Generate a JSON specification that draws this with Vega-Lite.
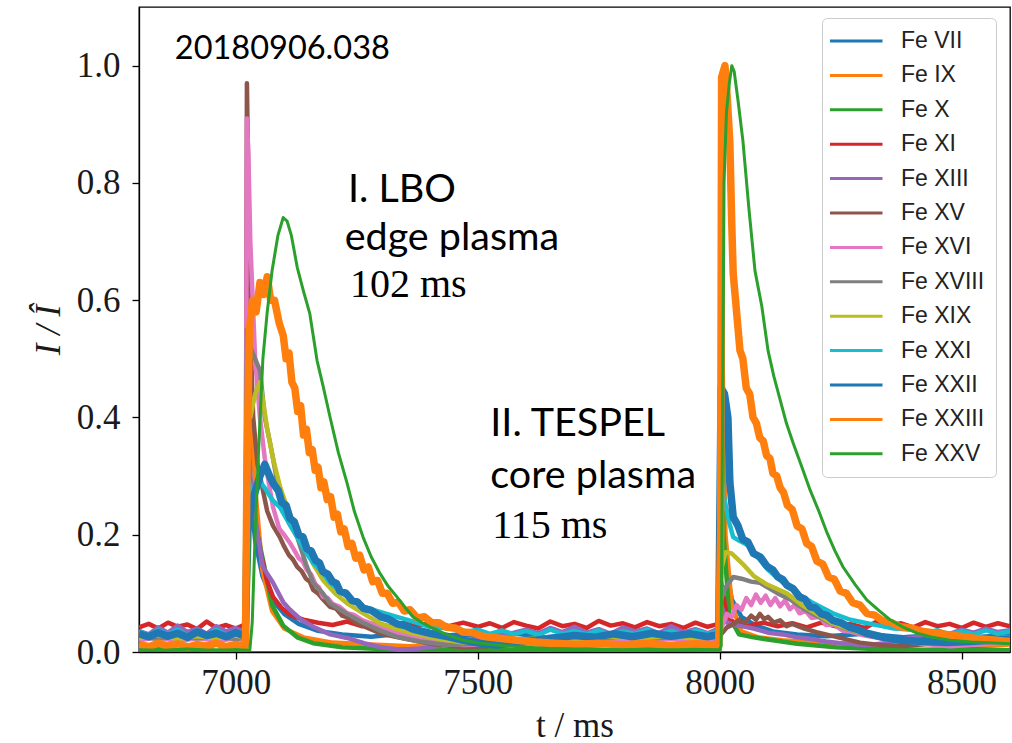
{
  "$schema": "https://vega.github.io/schema/vega-lite/v6.json",
  "width": 871,
  "height": 645,
  "autosize": {"type": "none"},
  "padding": {"left": 139, "top": 7, "right": 2, "bottom": 91},
  "background": "white",
  "config": {
    "view": {"stroke": "black", "strokeWidth": 1.3},
    "axis": {
      "grid": false,
      "domainColor": "black",
      "domainWidth": 1.3,
      "tickColor": "black",
      "tickWidth": 1.3,
      "tickSize": 7,
      "labelFont": "Liberation Serif",
      "labelFontSize": 35,
      "labelColor": "#1a1a1a",
      "labelFlush": false,
      "titleFont": "Liberation Serif",
      "titleFontSize": 35,
      "titleFontWeight": "normal",
      "titleColor": "#1a1a1a"
    }
  },
  "datasets": {
    "ions": [
      {"s":"Fe VII","t":6800,"v":0.026},{"s":"Fe VII","t":6840,"v":0.032},{"s":"Fe VII","t":6880,"v":0.024},{"s":"Fe VII","t":6920,"v":0.030},{"s":"Fe VII","t":6960,"v":0.025},{"s":"Fe VII","t":7000,"v":0.031},{"s":"Fe VII","t":7020,"v":0.027},{"s":"Fe VII","t":7023,"v":0.35},{"s":"Fe VII","t":7030,"v":0.28},{"s":"Fe VII","t":7040,"v":0.19},{"s":"Fe VII","t":7055,"v":0.13},{"s":"Fe VII","t":7075,"v":0.09},{"s":"Fe VII","t":7100,"v":0.065},{"s":"Fe VII","t":7130,"v":0.048},{"s":"Fe VII","t":7170,"v":0.036},{"s":"Fe VII","t":7220,"v":0.03},{"s":"Fe VII","t":7280,"v":0.026},{"s":"Fe VII","t":7340,"v":0.031},{"s":"Fe VII","t":7400,"v":0.025},{"s":"Fe VII","t":7460,"v":0.03},{"s":"Fe VII","t":7520,"v":0.026},{"s":"Fe VII","t":7580,"v":0.031},{"s":"Fe VII","t":7640,"v":0.025},{"s":"Fe VII","t":7700,"v":0.03},{"s":"Fe VII","t":7760,"v":0.026},{"s":"Fe VII","t":7820,"v":0.031},{"s":"Fe VII","t":7880,"v":0.025},{"s":"Fe VII","t":7940,"v":0.03},{"s":"Fe VII","t":8000,"v":0.027},{"s":"Fe VII","t":8003,"v":0.3},{"s":"Fe VII","t":8010,"v":0.16},{"s":"Fe VII","t":8025,"v":0.09},{"s":"Fe VII","t":8045,"v":0.06},{"s":"Fe VII","t":8075,"v":0.045},{"s":"Fe VII","t":8110,"v":0.035},{"s":"Fe VII","t":8160,"v":0.03},{"s":"Fe VII","t":8220,"v":0.027},{"s":"Fe VII","t":8300,"v":0.031},{"s":"Fe VII","t":8380,"v":0.025},{"s":"Fe VII","t":8460,"v":0.03},{"s":"Fe VII","t":8540,"v":0.026},{"s":"Fe VII","t":8600,"v":0.029},

      {"s":"Fe IX","t":6800,"v":0.012},{"s":"Fe IX","t":6840,"v":0.009},{"s":"Fe IX","t":6880,"v":0.014},{"s":"Fe IX","t":6920,"v":0.010},{"s":"Fe IX","t":6960,"v":0.013},{"s":"Fe IX","t":7000,"v":0.009},{"s":"Fe IX","t":7020,"v":0.012},{"s":"Fe IX","t":7023,"v":0.62},{"s":"Fe IX","t":7030,"v":0.45},{"s":"Fe IX","t":7040,"v":0.28},{"s":"Fe IX","t":7055,"v":0.14},{"s":"Fe IX","t":7075,"v":0.07},{"s":"Fe IX","t":7100,"v":0.04},{"s":"Fe IX","t":7140,"v":0.025},{"s":"Fe IX","t":7200,"v":0.016},{"s":"Fe IX","t":7280,"v":0.013},{"s":"Fe IX","t":7360,"v":0.010},{"s":"Fe IX","t":7440,"v":0.014},{"s":"Fe IX","t":7520,"v":0.011},{"s":"Fe IX","t":7600,"v":0.014},{"s":"Fe IX","t":7680,"v":0.010},{"s":"Fe IX","t":7760,"v":0.013},{"s":"Fe IX","t":7840,"v":0.010},{"s":"Fe IX","t":7920,"v":0.014},{"s":"Fe IX","t":8000,"v":0.011},{"s":"Fe IX","t":8002,"v":0.98},{"s":"Fe IX","t":8006,"v":0.5},{"s":"Fe IX","t":8012,"v":0.2},{"s":"Fe IX","t":8025,"v":0.08},{"s":"Fe IX","t":8045,"v":0.035},{"s":"Fe IX","t":8080,"v":0.025},{"s":"Fe IX","t":8130,"v":0.02},{"s":"Fe IX","t":8200,"v":0.016},{"s":"Fe IX","t":8280,"v":0.014},{"s":"Fe IX","t":8360,"v":0.011},{"s":"Fe IX","t":8440,"v":0.014},{"s":"Fe IX","t":8520,"v":0.010},{"s":"Fe IX","t":8600,"v":0.013},

      {"s":"Fe X","t":6800,"v":0.004},{"s":"Fe X","t":6840,"v":0.006},{"s":"Fe X","t":6880,"v":0.003},{"s":"Fe X","t":6920,"v":0.005},{"s":"Fe X","t":6960,"v":0.002},{"s":"Fe X","t":7000,"v":0.005},{"s":"Fe X","t":7020,"v":0.003},{"s":"Fe X","t":7023,"v":0.05},{"s":"Fe X","t":7030,"v":0.25},{"s":"Fe X","t":7045,"v":0.2},{"s":"Fe X","t":7058,"v":0.15},{"s":"Fe X","t":7075,"v":0.08},{"s":"Fe X","t":7098,"v":0.045},{"s":"Fe X","t":7127,"v":0.025},{"s":"Fe X","t":7160,"v":0.015},{"s":"Fe X","t":7220,"v":0.008},{"s":"Fe X","t":7300,"v":0.005},{"s":"Fe X","t":7400,"v":0.003},{"s":"Fe X","t":7500,"v":0.005},{"s":"Fe X","t":7600,"v":0.003},{"s":"Fe X","t":7700,"v":0.005},{"s":"Fe X","t":7800,"v":0.003},{"s":"Fe X","t":7900,"v":0.005},{"s":"Fe X","t":8000,"v":0.004},{"s":"Fe X","t":8003,"v":0.6},{"s":"Fe X","t":8008,"v":0.2},{"s":"Fe X","t":8020,"v":0.06},{"s":"Fe X","t":8040,"v":0.03},{"s":"Fe X","t":8070,"v":0.025},{"s":"Fe X","t":8110,"v":0.02},{"s":"Fe X","t":8160,"v":0.014},{"s":"Fe X","t":8240,"v":0.008},{"s":"Fe X","t":8320,"v":0.005},{"s":"Fe X","t":8420,"v":0.004},{"s":"Fe X","t":8520,"v":0.005},{"s":"Fe X","t":8600,"v":0.003},

      {"s":"Fe XI","t":6800,"v":0.042},{"s":"Fe XI","t":6820,"v":0.048},{"s":"Fe XI","t":6840,"v":0.040},{"s":"Fe XI","t":6860,"v":0.050},{"s":"Fe XI","t":6880,"v":0.043},{"s":"Fe XI","t":6900,"v":0.047},{"s":"Fe XI","t":6920,"v":0.039},{"s":"Fe XI","t":6940,"v":0.052},{"s":"Fe XI","t":6960,"v":0.041},{"s":"Fe XI","t":6980,"v":0.046},{"s":"Fe XI","t":7000,"v":0.040},{"s":"Fe XI","t":7020,"v":0.047},{"s":"Fe XI","t":7023,"v":0.35},{"s":"Fe XI","t":7035,"v":0.25},{"s":"Fe XI","t":7050,"v":0.174},{"s":"Fe XI","t":7065,"v":0.12},{"s":"Fe XI","t":7077,"v":0.094},{"s":"Fe XI","t":7095,"v":0.075},{"s":"Fe XI","t":7115,"v":0.062},{"s":"Fe XI","t":7140,"v":0.055},{"s":"Fe XI","t":7170,"v":0.05},{"s":"Fe XI","t":7200,"v":0.046},{"s":"Fe XI","t":7230,"v":0.052},{"s":"Fe XI","t":7260,"v":0.044},{"s":"Fe XI","t":7290,"v":0.049},{"s":"Fe XI","t":7320,"v":0.043},{"s":"Fe XI","t":7350,"v":0.05},{"s":"Fe XI","t":7380,"v":0.045},{"s":"Fe XI","t":7410,"v":0.052},{"s":"Fe XI","t":7440,"v":0.044},{"s":"Fe XI","t":7470,"v":0.05},{"s":"Fe XI","t":7500,"v":0.043},{"s":"Fe XI","t":7525,"v":0.049},{"s":"Fe XI","t":7550,"v":0.041},{"s":"Fe XI","t":7575,"v":0.051},{"s":"Fe XI","t":7600,"v":0.045},{"s":"Fe XI","t":7625,"v":0.040},{"s":"Fe XI","t":7650,"v":0.052},{"s":"Fe XI","t":7675,"v":0.044},{"s":"Fe XI","t":7700,"v":0.048},{"s":"Fe XI","t":7725,"v":0.041},{"s":"Fe XI","t":7750,"v":0.053},{"s":"Fe XI","t":7775,"v":0.045},{"s":"Fe XI","t":7800,"v":0.049},{"s":"Fe XI","t":7825,"v":0.042},{"s":"Fe XI","t":7850,"v":0.051},{"s":"Fe XI","t":7875,"v":0.044},{"s":"Fe XI","t":7900,"v":0.048},{"s":"Fe XI","t":7925,"v":0.041},{"s":"Fe XI","t":7950,"v":0.05},{"s":"Fe XI","t":7975,"v":0.043},{"s":"Fe XI","t":7998,"v":0.048},{"s":"Fe XI","t":8003,"v":0.12},{"s":"Fe XI","t":8015,"v":0.06},{"s":"Fe XI","t":8030,"v":0.05},{"s":"Fe XI","t":8060,"v":0.045},{"s":"Fe XI","t":8090,"v":0.05},{"s":"Fe XI","t":8120,"v":0.044},{"s":"Fe XI","t":8150,"v":0.049},{"s":"Fe XI","t":8180,"v":0.042},{"s":"Fe XI","t":8210,"v":0.05},{"s":"Fe XI","t":8240,"v":0.044},{"s":"Fe XI","t":8270,"v":0.048},{"s":"Fe XI","t":8300,"v":0.041},{"s":"Fe XI","t":8325,"v":0.052},{"s":"Fe XI","t":8350,"v":0.045},{"s":"Fe XI","t":8375,"v":0.049},{"s":"Fe XI","t":8400,"v":0.042},{"s":"Fe XI","t":8425,"v":0.051},{"s":"Fe XI","t":8450,"v":0.044},{"s":"Fe XI","t":8475,"v":0.048},{"s":"Fe XI","t":8500,"v":0.041},{"s":"Fe XI","t":8525,"v":0.05},{"s":"Fe XI","t":8550,"v":0.043},{"s":"Fe XI","t":8575,"v":0.049},{"s":"Fe XI","t":8600,"v":0.044},

      {"s":"Fe XIII","t":6800,"v":0.036},{"s":"Fe XIII","t":6820,"v":0.030},{"s":"Fe XIII","t":6840,"v":0.042},{"s":"Fe XIII","t":6860,"v":0.033},{"s":"Fe XIII","t":6880,"v":0.045},{"s":"Fe XIII","t":6900,"v":0.034},{"s":"Fe XIII","t":6920,"v":0.040},{"s":"Fe XIII","t":6940,"v":0.031},{"s":"Fe XIII","t":6960,"v":0.044},{"s":"Fe XIII","t":6980,"v":0.035},{"s":"Fe XIII","t":7000,"v":0.041},{"s":"Fe XIII","t":7020,"v":0.033},{"s":"Fe XIII","t":7023,"v":0.45},{"s":"Fe XIII","t":7030,"v":0.3},{"s":"Fe XIII","t":7045,"v":0.2},{"s":"Fe XIII","t":7056,"v":0.145},{"s":"Fe XIII","t":7077,"v":0.118},{"s":"Fe XIII","t":7098,"v":0.085},{"s":"Fe XIII","t":7112,"v":0.072},{"s":"Fe XIII","t":7135,"v":0.055},{"s":"Fe XIII","t":7160,"v":0.043},{"s":"Fe XIII","t":7195,"v":0.03},{"s":"Fe XIII","t":7230,"v":0.024},{"s":"Fe XIII","t":7265,"v":0.015},{"s":"Fe XIII","t":7300,"v":0.008},{"s":"Fe XIII","t":7340,"v":0.004},{"s":"Fe XIII","t":7380,"v":0.006},{"s":"Fe XIII","t":7420,"v":0.010},{"s":"Fe XIII","t":7460,"v":0.016},{"s":"Fe XIII","t":7500,"v":0.022},{"s":"Fe XIII","t":7540,"v":0.028},{"s":"Fe XIII","t":7575,"v":0.033},{"s":"Fe XIII","t":7600,"v":0.038},{"s":"Fe XIII","t":7625,"v":0.032},{"s":"Fe XIII","t":7650,"v":0.041},{"s":"Fe XIII","t":7675,"v":0.034},{"s":"Fe XIII","t":7700,"v":0.043},{"s":"Fe XIII","t":7725,"v":0.033},{"s":"Fe XIII","t":7750,"v":0.039},{"s":"Fe XIII","t":7775,"v":0.031},{"s":"Fe XIII","t":7800,"v":0.042},{"s":"Fe XIII","t":7825,"v":0.035},{"s":"Fe XIII","t":7850,"v":0.040},{"s":"Fe XIII","t":7875,"v":0.032},{"s":"Fe XIII","t":7900,"v":0.044},{"s":"Fe XIII","t":7925,"v":0.034},{"s":"Fe XIII","t":7950,"v":0.039},{"s":"Fe XIII","t":7975,"v":0.032},{"s":"Fe XIII","t":7998,"v":0.040},{"s":"Fe XIII","t":8003,"v":0.08},{"s":"Fe XIII","t":8015,"v":0.05},{"s":"Fe XIII","t":8040,"v":0.045},{"s":"Fe XIII","t":8070,"v":0.04},{"s":"Fe XIII","t":8100,"v":0.033},{"s":"Fe XIII","t":8130,"v":0.03},{"s":"Fe XIII","t":8160,"v":0.025},{"s":"Fe XIII","t":8190,"v":0.022},{"s":"Fe XIII","t":8220,"v":0.018},{"s":"Fe XIII","t":8250,"v":0.015},{"s":"Fe XIII","t":8280,"v":0.013},{"s":"Fe XIII","t":8310,"v":0.012},{"s":"Fe XIII","t":8340,"v":0.015},{"s":"Fe XIII","t":8370,"v":0.02},{"s":"Fe XIII","t":8400,"v":0.025},{"s":"Fe XIII","t":8425,"v":0.03},{"s":"Fe XIII","t":8450,"v":0.034},{"s":"Fe XIII","t":8475,"v":0.031},{"s":"Fe XIII","t":8500,"v":0.038},{"s":"Fe XIII","t":8525,"v":0.033},{"s":"Fe XIII","t":8550,"v":0.040},{"s":"Fe XIII","t":8575,"v":0.034},{"s":"Fe XIII","t":8600,"v":0.037},

      {"s":"Fe XV","t":6800,"v":0.024},{"s":"Fe XV","t":6840,"v":0.028},{"s":"Fe XV","t":6880,"v":0.021},{"s":"Fe XV","t":6920,"v":0.027},{"s":"Fe XV","t":6960,"v":0.022},{"s":"Fe XV","t":7000,"v":0.026},{"s":"Fe XV","t":7020,"v":0.023},{"s":"Fe XV","t":7023,"v":0.97},{"s":"Fe XV","t":7026,"v":0.8},{"s":"Fe XV","t":7030,"v":0.55},{"s":"Fe XV","t":7036,"v":0.4},{"s":"Fe XV","t":7045,"v":0.32},{"s":"Fe XV","t":7055,"v":0.28},{"s":"Fe XV","t":7065,"v":0.24},{"s":"Fe XV","t":7077,"v":0.215},{"s":"Fe XV","t":7091,"v":0.196},{"s":"Fe XV","t":7100,"v":0.18},{"s":"Fe XV","t":7110,"v":0.165},{"s":"Fe XV","t":7118,"v":0.158},{"s":"Fe XV","t":7127,"v":0.145},{"s":"Fe XV","t":7136,"v":0.138},{"s":"Fe XV","t":7145,"v":0.125},{"s":"Fe XV","t":7153,"v":0.12},{"s":"Fe XV","t":7160,"v":0.106},{"s":"Fe XV","t":7170,"v":0.1},{"s":"Fe XV","t":7180,"v":0.09},{"s":"Fe XV","t":7195,"v":0.077},{"s":"Fe XV","t":7207,"v":0.074},{"s":"Fe XV","t":7220,"v":0.062},{"s":"Fe XV","t":7235,"v":0.058},{"s":"Fe XV","t":7250,"v":0.049},{"s":"Fe XV","t":7275,"v":0.04},{"s":"Fe XV","t":7298,"v":0.032},{"s":"Fe XV","t":7330,"v":0.026},{"s":"Fe XV","t":7366,"v":0.02},{"s":"Fe XV","t":7410,"v":0.013},{"s":"Fe XV","t":7470,"v":0.008},{"s":"Fe XV","t":7520,"v":0.010},{"s":"Fe XV","t":7580,"v":0.015},{"s":"Fe XV","t":7640,"v":0.02},{"s":"Fe XV","t":7700,"v":0.024},{"s":"Fe XV","t":7760,"v":0.021},{"s":"Fe XV","t":7820,"v":0.026},{"s":"Fe XV","t":7880,"v":0.022},{"s":"Fe XV","t":7940,"v":0.027},{"s":"Fe XV","t":8000,"v":0.023},{"s":"Fe XV","t":8003,"v":0.03},{"s":"Fe XV","t":8015,"v":0.042},{"s":"Fe XV","t":8030,"v":0.048},{"s":"Fe XV","t":8040,"v":0.055},{"s":"Fe XV","t":8052,"v":0.05},{"s":"Fe XV","t":8065,"v":0.062},{"s":"Fe XV","t":8075,"v":0.055},{"s":"Fe XV","t":8083,"v":0.065},{"s":"Fe XV","t":8092,"v":0.056},{"s":"Fe XV","t":8100,"v":0.06},{"s":"Fe XV","t":8112,"v":0.05},{"s":"Fe XV","t":8125,"v":0.054},{"s":"Fe XV","t":8138,"v":0.044},{"s":"Fe XV","t":8150,"v":0.048},{"s":"Fe XV","t":8175,"v":0.04},{"s":"Fe XV","t":8200,"v":0.034},{"s":"Fe XV","t":8230,"v":0.028},{"s":"Fe XV","t":8260,"v":0.022},{"s":"Fe XV","t":8290,"v":0.016},{"s":"Fe XV","t":8330,"v":0.012},{"s":"Fe XV","t":8380,"v":0.010},{"s":"Fe XV","t":8430,"v":0.014},{"s":"Fe XV","t":8480,"v":0.018},{"s":"Fe XV","t":8540,"v":0.022},{"s":"Fe XV","t":8600,"v":0.02},

      {"s":"Fe XVI","t":6800,"v":0.020},{"s":"Fe XVI","t":6840,"v":0.025},{"s":"Fe XVI","t":6880,"v":0.018},{"s":"Fe XVI","t":6920,"v":0.024},{"s":"Fe XVI","t":6960,"v":0.019},{"s":"Fe XVI","t":7000,"v":0.023},{"s":"Fe XVI","t":7020,"v":0.020},{"s":"Fe XVI","t":7023,"v":0.91},{"s":"Fe XVI","t":7026,"v":0.85},{"s":"Fe XVI","t":7030,"v":0.7},{"s":"Fe XVI","t":7034,"v":0.62},{"s":"Fe XVI","t":7040,"v":0.5},{"s":"Fe XVI","t":7050,"v":0.4},{"s":"Fe XVI","t":7060,"v":0.33},{"s":"Fe XVI","t":7070,"v":0.28},{"s":"Fe XVI","t":7077,"v":0.247},{"s":"Fe XVI","t":7090,"v":0.21},{"s":"Fe XVI","t":7100,"v":0.2},{"s":"Fe XVI","t":7112,"v":0.186},{"s":"Fe XVI","t":7120,"v":0.175},{"s":"Fe XVI","t":7130,"v":0.16},{"s":"Fe XVI","t":7138,"v":0.155},{"s":"Fe XVI","t":7147,"v":0.14},{"s":"Fe XVI","t":7156,"v":0.132},{"s":"Fe XVI","t":7165,"v":0.115},{"s":"Fe XVI","t":7172,"v":0.11},{"s":"Fe XVI","t":7180,"v":0.094},{"s":"Fe XVI","t":7190,"v":0.092},{"s":"Fe XVI","t":7200,"v":0.082},{"s":"Fe XVI","t":7215,"v":0.077},{"s":"Fe XVI","t":7230,"v":0.066},{"s":"Fe XVI","t":7245,"v":0.063},{"s":"Fe XVI","t":7260,"v":0.055},{"s":"Fe XVI","t":7298,"v":0.043},{"s":"Fe XVI","t":7330,"v":0.034},{"s":"Fe XVI","t":7366,"v":0.026},{"s":"Fe XVI","t":7410,"v":0.018},{"s":"Fe XVI","t":7470,"v":0.012},{"s":"Fe XVI","t":7520,"v":0.013},{"s":"Fe XVI","t":7580,"v":0.016},{"s":"Fe XVI","t":7640,"v":0.020},{"s":"Fe XVI","t":7700,"v":0.018},{"s":"Fe XVI","t":7760,"v":0.022},{"s":"Fe XVI","t":7820,"v":0.019},{"s":"Fe XVI","t":7880,"v":0.023},{"s":"Fe XVI","t":7940,"v":0.020},{"s":"Fe XVI","t":8000,"v":0.022},{"s":"Fe XVI","t":8003,"v":0.04},{"s":"Fe XVI","t":8015,"v":0.065},{"s":"Fe XVI","t":8025,"v":0.06},{"s":"Fe XVI","t":8035,"v":0.08},{"s":"Fe XVI","t":8045,"v":0.072},{"s":"Fe XVI","t":8055,"v":0.092},{"s":"Fe XVI","t":8065,"v":0.08},{"s":"Fe XVI","t":8075,"v":0.098},{"s":"Fe XVI","t":8085,"v":0.084},{"s":"Fe XVI","t":8095,"v":0.096},{"s":"Fe XVI","t":8105,"v":0.08},{"s":"Fe XVI","t":8115,"v":0.092},{"s":"Fe XVI","t":8125,"v":0.078},{"s":"Fe XVI","t":8135,"v":0.088},{"s":"Fe XVI","t":8145,"v":0.073},{"s":"Fe XVI","t":8155,"v":0.08},{"s":"Fe XVI","t":8165,"v":0.066},{"s":"Fe XVI","t":8178,"v":0.07},{"s":"Fe XVI","t":8190,"v":0.058},{"s":"Fe XVI","t":8207,"v":0.06},{"s":"Fe XVI","t":8220,"v":0.046},{"s":"Fe XVI","t":8235,"v":0.047},{"s":"Fe XVI","t":8255,"v":0.036},{"s":"Fe XVI","t":8270,"v":0.035},{"s":"Fe XVI","t":8300,"v":0.028},{"s":"Fe XVI","t":8340,"v":0.022},{"s":"Fe XVI","t":8373,"v":0.020},{"s":"Fe XVI","t":8420,"v":0.014},{"s":"Fe XVI","t":8476,"v":0.010},{"s":"Fe XVI","t":8540,"v":0.013},{"s":"Fe XVI","t":8600,"v":0.016},

      {"s":"Fe XVIII","t":6800,"v":0.026},{"s":"Fe XVIII","t":6840,"v":0.022},{"s":"Fe XVIII","t":6880,"v":0.028},{"s":"Fe XVIII","t":6920,"v":0.023},{"s":"Fe XVIII","t":6960,"v":0.027},{"s":"Fe XVIII","t":7000,"v":0.022},{"s":"Fe XVIII","t":7020,"v":0.025},{"s":"Fe XVIII","t":7023,"v":0.55},{"s":"Fe XVIII","t":7030,"v":0.52},{"s":"Fe XVIII","t":7040,"v":0.5},{"s":"Fe XVIII","t":7050,"v":0.48},{"s":"Fe XVIII","t":7060,"v":0.4},{"s":"Fe XVIII","t":7070,"v":0.36},{"s":"Fe XVIII","t":7077,"v":0.33},{"s":"Fe XVIII","t":7090,"v":0.27},{"s":"Fe XVIII","t":7110,"v":0.22},{"s":"Fe XVIII","t":7127,"v":0.196},{"s":"Fe XVIII","t":7145,"v":0.15},{"s":"Fe XVIII","t":7160,"v":0.118},{"s":"Fe XVIII","t":7180,"v":0.1},{"s":"Fe XVIII","t":7195,"v":0.083},{"s":"Fe XVIII","t":7230,"v":0.065},{"s":"Fe XVIII","t":7263,"v":0.05},{"s":"Fe XVIII","t":7300,"v":0.036},{"s":"Fe XVIII","t":7333,"v":0.026},{"s":"Fe XVIII","t":7380,"v":0.018},{"s":"Fe XVIII","t":7437,"v":0.012},{"s":"Fe XVIII","t":7500,"v":0.014},{"s":"Fe XVIII","t":7560,"v":0.018},{"s":"Fe XVIII","t":7620,"v":0.022},{"s":"Fe XVIII","t":7680,"v":0.026},{"s":"Fe XVIII","t":7740,"v":0.022},{"s":"Fe XVIII","t":7800,"v":0.027},{"s":"Fe XVIII","t":7860,"v":0.023},{"s":"Fe XVIII","t":7920,"v":0.026},{"s":"Fe XVIII","t":8000,"v":0.024},{"s":"Fe XVIII","t":8003,"v":0.09},{"s":"Fe XVIII","t":8012,"v":0.11},{"s":"Fe XVIII","t":8028,"v":0.128},{"s":"Fe XVIII","t":8045,"v":0.125},{"s":"Fe XVIII","t":8065,"v":0.12},{"s":"Fe XVIII","t":8083,"v":0.118},{"s":"Fe XVIII","t":8100,"v":0.11},{"s":"Fe XVIII","t":8120,"v":0.1},{"s":"Fe XVIII","t":8145,"v":0.09},{"s":"Fe XVIII","t":8170,"v":0.075},{"s":"Fe XVIII","t":8200,"v":0.062},{"s":"Fe XVIII","t":8228,"v":0.05},{"s":"Fe XVIII","t":8260,"v":0.04},{"s":"Fe XVIII","t":8300,"v":0.03},{"s":"Fe XVIII","t":8340,"v":0.022},{"s":"Fe XVIII","t":8373,"v":0.020},{"s":"Fe XVIII","t":8420,"v":0.020},{"s":"Fe XVIII","t":8480,"v":0.024},{"s":"Fe XVIII","t":8540,"v":0.022},{"s":"Fe XVIII","t":8600,"v":0.025},

      {"s":"Fe XIX","t":6800,"v":0.024},{"s":"Fe XIX","t":6840,"v":0.029},{"s":"Fe XIX","t":6880,"v":0.022},{"s":"Fe XIX","t":6920,"v":0.027},{"s":"Fe XIX","t":6960,"v":0.023},{"s":"Fe XIX","t":7000,"v":0.028},{"s":"Fe XIX","t":7020,"v":0.024},{"s":"Fe XIX","t":7023,"v":0.42},{"s":"Fe XIX","t":7030,"v":0.4},{"s":"Fe XIX","t":7040,"v":0.44},{"s":"Fe XIX","t":7050,"v":0.46},{"s":"Fe XIX","t":7056,"v":0.43},{"s":"Fe XIX","t":7065,"v":0.38},{"s":"Fe XIX","t":7077,"v":0.33},{"s":"Fe XIX","t":7092,"v":0.28},{"s":"Fe XIX","t":7106,"v":0.247},{"s":"Fe XIX","t":7125,"v":0.21},{"s":"Fe XIX","t":7139,"v":0.186},{"s":"Fe XIX","t":7160,"v":0.15},{"s":"Fe XIX","t":7180,"v":0.123},{"s":"Fe XIX","t":7205,"v":0.1},{"s":"Fe XIX","t":7230,"v":0.083},{"s":"Fe XIX","t":7265,"v":0.065},{"s":"Fe XIX","t":7298,"v":0.049},{"s":"Fe XIX","t":7330,"v":0.04},{"s":"Fe XIX","t":7366,"v":0.032},{"s":"Fe XIX","t":7420,"v":0.022},{"s":"Fe XIX","t":7470,"v":0.016},{"s":"Fe XIX","t":7530,"v":0.017},{"s":"Fe XIX","t":7590,"v":0.021},{"s":"Fe XIX","t":7650,"v":0.025},{"s":"Fe XIX","t":7710,"v":0.022},{"s":"Fe XIX","t":7770,"v":0.027},{"s":"Fe XIX","t":7830,"v":0.023},{"s":"Fe XIX","t":7890,"v":0.027},{"s":"Fe XIX","t":7950,"v":0.023},{"s":"Fe XIX","t":8000,"v":0.026},{"s":"Fe XIX","t":8003,"v":0.14},{"s":"Fe XIX","t":8012,"v":0.17},{"s":"Fe XIX","t":8025,"v":0.168},{"s":"Fe XIX","t":8035,"v":0.16},{"s":"Fe XIX","t":8048,"v":0.15},{"s":"Fe XIX","t":8070,"v":0.13},{"s":"Fe XIX","t":8098,"v":0.115},{"s":"Fe XIX","t":8139,"v":0.1},{"s":"Fe XIX","t":8170,"v":0.08},{"s":"Fe XIX","t":8200,"v":0.065},{"s":"Fe XIX","t":8230,"v":0.05},{"s":"Fe XIX","t":8270,"v":0.038},{"s":"Fe XIX","t":8310,"v":0.028},{"s":"Fe XIX","t":8373,"v":0.020},{"s":"Fe XIX","t":8430,"v":0.020},{"s":"Fe XIX","t":8500,"v":0.024},{"s":"Fe XIX","t":8560,"v":0.022},{"s":"Fe XIX","t":8600,"v":0.025},

      {"s":"Fe XXI","t":6800,"v":0.035},{"s":"Fe XXI","t":6820,"v":0.029},{"s":"Fe XXI","t":6840,"v":0.037},{"s":"Fe XXI","t":6860,"v":0.031},{"s":"Fe XXI","t":6880,"v":0.038},{"s":"Fe XXI","t":6900,"v":0.028},{"s":"Fe XXI","t":6920,"v":0.036},{"s":"Fe XXI","t":6940,"v":0.030},{"s":"Fe XXI","t":6960,"v":0.038},{"s":"Fe XXI","t":6980,"v":0.029},{"s":"Fe XXI","t":7000,"v":0.035},{"s":"Fe XXI","t":7020,"v":0.031},{"s":"Fe XXI","t":7023,"v":0.3},{"s":"Fe XXI","t":7035,"v":0.27},{"s":"Fe XXI","t":7050,"v":0.29},{"s":"Fe XXI","t":7060,"v":0.28},{"s":"Fe XXI","t":7075,"v":0.26},{"s":"Fe XXI","t":7091,"v":0.247},{"s":"Fe XXI","t":7110,"v":0.22},{"s":"Fe XXI","t":7127,"v":0.196},{"s":"Fe XXI","t":7145,"v":0.17},{"s":"Fe XXI","t":7160,"v":0.152},{"s":"Fe XXI","t":7180,"v":0.135},{"s":"Fe XXI","t":7195,"v":0.118},{"s":"Fe XXI","t":7220,"v":0.1},{"s":"Fe XXI","t":7250,"v":0.085},{"s":"Fe XXI","t":7263,"v":0.077},{"s":"Fe XXI","t":7300,"v":0.068},{"s":"Fe XXI","t":7333,"v":0.06},{"s":"Fe XXI","t":7366,"v":0.052},{"s":"Fe XXI","t":7400,"v":0.043},{"s":"Fe XXI","t":7440,"v":0.040},{"s":"Fe XXI","t":7480,"v":0.035},{"s":"Fe XXI","t":7500,"v":0.038},{"s":"Fe XXI","t":7525,"v":0.031},{"s":"Fe XXI","t":7550,"v":0.037},{"s":"Fe XXI","t":7575,"v":0.030},{"s":"Fe XXI","t":7600,"v":0.036},{"s":"Fe XXI","t":7625,"v":0.029},{"s":"Fe XXI","t":7650,"v":0.038},{"s":"Fe XXI","t":7675,"v":0.031},{"s":"Fe XXI","t":7700,"v":0.036},{"s":"Fe XXI","t":7725,"v":0.030},{"s":"Fe XXI","t":7750,"v":0.037},{"s":"Fe XXI","t":7775,"v":0.029},{"s":"Fe XXI","t":7800,"v":0.035},{"s":"Fe XXI","t":7825,"v":0.031},{"s":"Fe XXI","t":7850,"v":0.038},{"s":"Fe XXI","t":7875,"v":0.030},{"s":"Fe XXI","t":7900,"v":0.036},{"s":"Fe XXI","t":7925,"v":0.029},{"s":"Fe XXI","t":7950,"v":0.037},{"s":"Fe XXI","t":7975,"v":0.031},{"s":"Fe XXI","t":7998,"v":0.035},{"s":"Fe XXI","t":8003,"v":0.3},{"s":"Fe XXI","t":8010,"v":0.26},{"s":"Fe XXI","t":8020,"v":0.22},{"s":"Fe XXI","t":8028,"v":0.196},{"s":"Fe XXI","t":8040,"v":0.19},{"s":"Fe XXI","t":8063,"v":0.18},{"s":"Fe XXI","t":8080,"v":0.16},{"s":"Fe XXI","t":8100,"v":0.14},{"s":"Fe XXI","t":8131,"v":0.118},{"s":"Fe XXI","t":8160,"v":0.1},{"s":"Fe XXI","t":8190,"v":0.085},{"s":"Fe XXI","t":8234,"v":0.066},{"s":"Fe XXI","t":8270,"v":0.055},{"s":"Fe XXI","t":8300,"v":0.05},{"s":"Fe XXI","t":8330,"v":0.045},{"s":"Fe XXI","t":8360,"v":0.040},{"s":"Fe XXI","t":8400,"v":0.038},{"s":"Fe XXI","t":8425,"v":0.032},{"s":"Fe XXI","t":8450,"v":0.037},{"s":"Fe XXI","t":8475,"v":0.030},{"s":"Fe XXI","t":8500,"v":0.036},{"s":"Fe XXI","t":8525,"v":0.030},{"s":"Fe XXI","t":8550,"v":0.037},{"s":"Fe XXI","t":8575,"v":0.031},{"s":"Fe XXI","t":8600,"v":0.035},

      {"s":"Fe XXII","t":6800,"v":0.031},{"s":"Fe XXII","t":6820,"v":0.026},{"s":"Fe XXII","t":6840,"v":0.033},{"s":"Fe XXII","t":6860,"v":0.027},{"s":"Fe XXII","t":6880,"v":0.032},{"s":"Fe XXII","t":6900,"v":0.025},{"s":"Fe XXII","t":6920,"v":0.034},{"s":"Fe XXII","t":6940,"v":0.028},{"s":"Fe XXII","t":6960,"v":0.032},{"s":"Fe XXII","t":6980,"v":0.026},{"s":"Fe XXII","t":7000,"v":0.033},{"s":"Fe XXII","t":7020,"v":0.027},{"s":"Fe XXII","t":7023,"v":0.2},{"s":"Fe XXII","t":7035,"v":0.26},{"s":"Fe XXII","t":7050,"v":0.3},{"s":"Fe XXII","t":7060,"v":0.32},{"s":"Fe XXII","t":7070,"v":0.3},{"s":"Fe XXII","t":7077,"v":0.288},{"s":"Fe XXII","t":7088,"v":0.275},{"s":"Fe XXII","t":7095,"v":0.255},{"s":"Fe XXII","t":7104,"v":0.25},{"s":"Fe XXII","t":7112,"v":0.228},{"s":"Fe XXII","t":7121,"v":0.222},{"s":"Fe XXII","t":7130,"v":0.2},{"s":"Fe XXII","t":7139,"v":0.196},{"s":"Fe XXII","t":7147,"v":0.176},{"s":"Fe XXII","t":7156,"v":0.172},{"s":"Fe XXII","t":7165,"v":0.156},{"s":"Fe XXII","t":7173,"v":0.152},{"s":"Fe XXII","t":7180,"v":0.137},{"s":"Fe XXII","t":7190,"v":0.133},{"s":"Fe XXII","t":7200,"v":0.12},{"s":"Fe XXII","t":7208,"v":0.117},{"s":"Fe XXII","t":7215,"v":0.104},{"s":"Fe XXII","t":7228,"v":0.1},{"s":"Fe XXII","t":7240,"v":0.088},{"s":"Fe XXII","t":7252,"v":0.085},{"s":"Fe XXII","t":7263,"v":0.075},{"s":"Fe XXII","t":7280,"v":0.071},{"s":"Fe XXII","t":7300,"v":0.06},{"s":"Fe XXII","t":7316,"v":0.056},{"s":"Fe XXII","t":7333,"v":0.048},{"s":"Fe XXII","t":7350,"v":0.045},{"s":"Fe XXII","t":7366,"v":0.039},{"s":"Fe XXII","t":7401,"v":0.032},{"s":"Fe XXII","t":7440,"v":0.026},{"s":"Fe XXII","t":7470,"v":0.020},{"s":"Fe XXII","t":7505,"v":0.015},{"s":"Fe XXII","t":7540,"v":0.012},{"s":"Fe XXII","t":7580,"v":0.016},{"s":"Fe XXII","t":7620,"v":0.020},{"s":"Fe XXII","t":7660,"v":0.024},{"s":"Fe XXII","t":7700,"v":0.028},{"s":"Fe XXII","t":7740,"v":0.025},{"s":"Fe XXII","t":7780,"v":0.031},{"s":"Fe XXII","t":7820,"v":0.026},{"s":"Fe XXII","t":7860,"v":0.032},{"s":"Fe XXII","t":7900,"v":0.027},{"s":"Fe XXII","t":7940,"v":0.031},{"s":"Fe XXII","t":7975,"v":0.026},{"s":"Fe XXII","t":7998,"v":0.030},{"s":"Fe XXII","t":8003,"v":0.45},{"s":"Fe XXII","t":8010,"v":0.44},{"s":"Fe XXII","t":8017,"v":0.4},{"s":"Fe XXII","t":8021,"v":0.29},{"s":"Fe XXII","t":8028,"v":0.23},{"s":"Fe XXII","t":8038,"v":0.215},{"s":"Fe XXII","t":8048,"v":0.192},{"s":"Fe XXII","t":8058,"v":0.188},{"s":"Fe XXII","t":8070,"v":0.168},{"s":"Fe XXII","t":8084,"v":0.162},{"s":"Fe XXII","t":8098,"v":0.146},{"s":"Fe XXII","t":8110,"v":0.14},{"s":"Fe XXII","t":8120,"v":0.128},{"s":"Fe XXII","t":8130,"v":0.124},{"s":"Fe XXII","t":8139,"v":0.114},{"s":"Fe XXII","t":8152,"v":0.108},{"s":"Fe XXII","t":8165,"v":0.094},{"s":"Fe XXII","t":8176,"v":0.09},{"s":"Fe XXII","t":8187,"v":0.077},{"s":"Fe XXII","t":8198,"v":0.075},{"s":"Fe XXII","t":8210,"v":0.065},{"s":"Fe XXII","t":8222,"v":0.062},{"s":"Fe XXII","t":8234,"v":0.054},{"s":"Fe XXII","t":8250,"v":0.05},{"s":"Fe XXII","t":8269,"v":0.042},{"s":"Fe XXII","t":8286,"v":0.038},{"s":"Fe XXII","t":8304,"v":0.032},{"s":"Fe XXII","t":8340,"v":0.025},{"s":"Fe XXII","t":8373,"v":0.020},{"s":"Fe XXII","t":8420,"v":0.018},{"s":"Fe XXII","t":8470,"v":0.016},{"s":"Fe XXII","t":8520,"v":0.018},{"s":"Fe XXII","t":8560,"v":0.020},{"s":"Fe XXII","t":8600,"v":0.022},

      {"s":"Fe XXIII","t":6800,"v":0.013},{"s":"Fe XXIII","t":6820,"v":0.009},{"s":"Fe XXIII","t":6840,"v":0.015},{"s":"Fe XXIII","t":6860,"v":0.010},{"s":"Fe XXIII","t":6880,"v":0.014},{"s":"Fe XXIII","t":6900,"v":0.008},{"s":"Fe XXIII","t":6920,"v":0.013},{"s":"Fe XXIII","t":6940,"v":0.010},{"s":"Fe XXIII","t":6960,"v":0.015},{"s":"Fe XXIII","t":6980,"v":0.009},{"s":"Fe XXIII","t":7000,"v":0.013},{"s":"Fe XXIII","t":7020,"v":0.010},{"s":"Fe XXIII","t":7023,"v":0.3},{"s":"Fe XXIII","t":7028,"v":0.55},{"s":"Fe XXIII","t":7035,"v":0.6},{"s":"Fe XXIII","t":7042,"v":0.58},{"s":"Fe XXIII","t":7050,"v":0.63},{"s":"Fe XXIII","t":7058,"v":0.61},{"s":"Fe XXIII","t":7065,"v":0.64},{"s":"Fe XXIII","t":7072,"v":0.6},{"s":"Fe XXIII","t":7080,"v":0.6},{"s":"Fe XXIII","t":7090,"v":0.56},{"s":"Fe XXIII","t":7098,"v":0.54},{"s":"Fe XXIII","t":7104,"v":0.50},{"s":"Fe XXIII","t":7110,"v":0.51},{"s":"Fe XXIII","t":7116,"v":0.46},{"s":"Fe XXIII","t":7122,"v":0.45},{"s":"Fe XXIII","t":7128,"v":0.41},{"s":"Fe XXIII","t":7134,"v":0.42},{"s":"Fe XXIII","t":7140,"v":0.37},{"s":"Fe XXIII","t":7146,"v":0.38},{"s":"Fe XXIII","t":7152,"v":0.34},{"s":"Fe XXIII","t":7158,"v":0.345},{"s":"Fe XXIII","t":7164,"v":0.31},{"s":"Fe XXIII","t":7170,"v":0.315},{"s":"Fe XXIII","t":7176,"v":0.28},{"s":"Fe XXIII","t":7182,"v":0.29},{"s":"Fe XXIII","t":7189,"v":0.26},{"s":"Fe XXIII","t":7196,"v":0.265},{"s":"Fe XXIII","t":7203,"v":0.23},{"s":"Fe XXIII","t":7210,"v":0.235},{"s":"Fe XXIII","t":7217,"v":0.205},{"s":"Fe XXIII","t":7224,"v":0.21},{"s":"Fe XXIII","t":7232,"v":0.18},{"s":"Fe XXIII","t":7240,"v":0.185},{"s":"Fe XXIII","t":7248,"v":0.16},{"s":"Fe XXIII","t":7256,"v":0.165},{"s":"Fe XXIII","t":7265,"v":0.14},{"s":"Fe XXIII","t":7274,"v":0.145},{"s":"Fe XXIII","t":7283,"v":0.12},{"s":"Fe XXIII","t":7293,"v":0.122},{"s":"Fe XXIII","t":7303,"v":0.1},{"s":"Fe XXIII","t":7313,"v":0.1},{"s":"Fe XXIII","t":7324,"v":0.083},{"s":"Fe XXIII","t":7336,"v":0.085},{"s":"Fe XXIII","t":7348,"v":0.07},{"s":"Fe XXIII","t":7360,"v":0.072},{"s":"Fe XXIII","t":7375,"v":0.058},{"s":"Fe XXIII","t":7390,"v":0.06},{"s":"Fe XXIII","t":7405,"v":0.05},{"s":"Fe XXIII","t":7420,"v":0.05},{"s":"Fe XXIII","t":7436,"v":0.042},{"s":"Fe XXIII","t":7453,"v":0.041},{"s":"Fe XXIII","t":7470,"v":0.034},{"s":"Fe XXIII","t":7490,"v":0.033},{"s":"Fe XXIII","t":7510,"v":0.027},{"s":"Fe XXIII","t":7540,"v":0.024},{"s":"Fe XXIII","t":7580,"v":0.020},{"s":"Fe XXIII","t":7620,"v":0.017},{"s":"Fe XXIII","t":7660,"v":0.015},{"s":"Fe XXIII","t":7700,"v":0.013},{"s":"Fe XXIII","t":7750,"v":0.015},{"s":"Fe XXIII","t":7800,"v":0.012},{"s":"Fe XXIII","t":7850,"v":0.015},{"s":"Fe XXIII","t":7900,"v":0.011},{"s":"Fe XXIII","t":7950,"v":0.014},{"s":"Fe XXIII","t":7998,"v":0.012},{"s":"Fe XXIII","t":8002,"v":0.2},{"s":"Fe XXIII","t":8004,"v":0.98},{"s":"Fe XXIII","t":8011,"v":1.0},{"s":"Fe XXIII","t":8016,"v":0.94},{"s":"Fe XXIII","t":8021,"v":0.87},{"s":"Fe XXIII","t":8025,"v":0.73},{"s":"Fe XXIII","t":8028,"v":0.645},{"s":"Fe XXIII","t":8036,"v":0.57},{"s":"Fe XXIII","t":8042,"v":0.514},{"s":"Fe XXIII","t":8048,"v":0.5},{"s":"Fe XXIII","t":8055,"v":0.45},{"s":"Fe XXIII","t":8062,"v":0.44},{"s":"Fe XXIII","t":8069,"v":0.4},{"s":"Fe XXIII","t":8076,"v":0.39},{"s":"Fe XXIII","t":8083,"v":0.365},{"s":"Fe XXIII","t":8090,"v":0.36},{"s":"Fe XXIII","t":8097,"v":0.335},{"s":"Fe XXIII","t":8104,"v":0.33},{"s":"Fe XXIII","t":8110,"v":0.305},{"s":"Fe XXIII","t":8118,"v":0.3},{"s":"Fe XXIII","t":8125,"v":0.28},{"s":"Fe XXIII","t":8132,"v":0.272},{"s":"Fe XXIII","t":8140,"v":0.25},{"s":"Fe XXIII","t":8150,"v":0.243},{"s":"Fe XXIII","t":8160,"v":0.215},{"s":"Fe XXIII","t":8170,"v":0.21},{"s":"Fe XXIII","t":8180,"v":0.185},{"s":"Fe XXIII","t":8190,"v":0.18},{"s":"Fe XXIII","t":8201,"v":0.155},{"s":"Fe XXIII","t":8213,"v":0.15},{"s":"Fe XXIII","t":8225,"v":0.128},{"s":"Fe XXIII","t":8237,"v":0.124},{"s":"Fe XXIII","t":8249,"v":0.104},{"s":"Fe XXIII","t":8262,"v":0.1},{"s":"Fe XXIII","t":8275,"v":0.084},{"s":"Fe XXIII","t":8290,"v":0.08},{"s":"Fe XXIII","t":8304,"v":0.066},{"s":"Fe XXIII","t":8320,"v":0.063},{"s":"Fe XXIII","t":8335,"v":0.054},{"s":"Fe XXIII","t":8355,"v":0.05},{"s":"Fe XXIII","t":8373,"v":0.043},{"s":"Fe XXIII","t":8395,"v":0.041},{"s":"Fe XXIII","t":8420,"v":0.035},{"s":"Fe XXIII","t":8450,"v":0.032},{"s":"Fe XXIII","t":8476,"v":0.029},{"s":"Fe XXIII","t":8505,"v":0.026},{"s":"Fe XXIII","t":8530,"v":0.023},{"s":"Fe XXIII","t":8560,"v":0.021},{"s":"Fe XXIII","t":8600,"v":0.018},

      {"s":"Fe XXV","t":6800,"v":0.004},{"s":"Fe XXV","t":6850,"v":0.003},{"s":"Fe XXV","t":6900,"v":0.005},{"s":"Fe XXV","t":6950,"v":0.003},{"s":"Fe XXV","t":7000,"v":0.004},{"s":"Fe XXV","t":7029,"v":0.003},{"s":"Fe XXV","t":7034,"v":0.05},{"s":"Fe XXV","t":7040,"v":0.2},{"s":"Fe XXV","t":7048,"v":0.36},{"s":"Fe XXV","t":7056,"v":0.5},{"s":"Fe XXV","t":7065,"v":0.58},{"s":"Fe XXV","t":7075,"v":0.65},{"s":"Fe XXV","t":7087,"v":0.71},{"s":"Fe XXV","t":7098,"v":0.741},{"s":"Fe XXV","t":7106,"v":0.735},{"s":"Fe XXV","t":7115,"v":0.71},{"s":"Fe XXV","t":7127,"v":0.656},{"s":"Fe XXV","t":7140,"v":0.615},{"s":"Fe XXV","t":7153,"v":0.577},{"s":"Fe XXV","t":7168,"v":0.497},{"s":"Fe XXV","t":7180,"v":0.455},{"s":"Fe XXV","t":7195,"v":0.4},{"s":"Fe XXV","t":7212,"v":0.34},{"s":"Fe XXV","t":7230,"v":0.288},{"s":"Fe XXV","t":7245,"v":0.24},{"s":"Fe XXV","t":7263,"v":0.196},{"s":"Fe XXV","t":7280,"v":0.162},{"s":"Fe XXV","t":7298,"v":0.134},{"s":"Fe XXV","t":7315,"v":0.112},{"s":"Fe XXV","t":7333,"v":0.094},{"s":"Fe XXV","t":7350,"v":0.076},{"s":"Fe XXV","t":7366,"v":0.06},{"s":"Fe XXV","t":7385,"v":0.05},{"s":"Fe XXV","t":7401,"v":0.043},{"s":"Fe XXV","t":7435,"v":0.03},{"s":"Fe XXV","t":7470,"v":0.02},{"s":"Fe XXV","t":7505,"v":0.015},{"s":"Fe XXV","t":7550,"v":0.011},{"s":"Fe XXV","t":7600,"v":0.008},{"s":"Fe XXV","t":7650,"v":0.006},{"s":"Fe XXV","t":7700,"v":0.005},{"s":"Fe XXV","t":7800,"v":0.004},{"s":"Fe XXV","t":7900,"v":0.004},{"s":"Fe XXV","t":8000,"v":0.004},{"s":"Fe XXV","t":8003,"v":0.01},{"s":"Fe XXV","t":8006,"v":0.4},{"s":"Fe XXV","t":8009,"v":0.8},{"s":"Fe XXV","t":8014,"v":0.92},{"s":"Fe XXV","t":8020,"v":0.97},{"s":"Fe XXV","t":8025,"v":1.0},{"s":"Fe XXV","t":8030,"v":0.99},{"s":"Fe XXV","t":8038,"v":0.94},{"s":"Fe XXV","t":8048,"v":0.872},{"s":"Fe XXV","t":8060,"v":0.76},{"s":"Fe XXV","t":8073,"v":0.65},{"s":"Fe XXV","t":8087,"v":0.59},{"s":"Fe XXV","t":8100,"v":0.514},{"s":"Fe XXV","t":8112,"v":0.47},{"s":"Fe XXV","t":8125,"v":0.43},{"s":"Fe XXV","t":8138,"v":0.39},{"s":"Fe XXV","t":8152,"v":0.356},{"s":"Fe XXV","t":8170,"v":0.315},{"s":"Fe XXV","t":8187,"v":0.276},{"s":"Fe XXV","t":8205,"v":0.24},{"s":"Fe XXV","t":8222,"v":0.203},{"s":"Fe XXV","t":8238,"v":0.173},{"s":"Fe XXV","t":8255,"v":0.145},{"s":"Fe XXV","t":8280,"v":0.115},{"s":"Fe XXV","t":8304,"v":0.089},{"s":"Fe XXV","t":8330,"v":0.07},{"s":"Fe XXV","t":8352,"v":0.055},{"s":"Fe XXV","t":8380,"v":0.042},{"s":"Fe XXV","t":8408,"v":0.032},{"s":"Fe XXV","t":8440,"v":0.025},{"s":"Fe XXV","t":8476,"v":0.02},{"s":"Fe XXV","t":8520,"v":0.017},{"s":"Fe XXV","t":8579,"v":0.015},{"s":"Fe XXV","t":8600,"v":0.014}
    ]
  },
  "encoding": {
    "x": {
      "field": "t",
      "type": "quantitative",
      "scale": {"domain": [6800, 8600], "nice": false, "zero": false},
      "axis": {"title": "t / ms", "values": [7000, 7500, 8000, 8500], "format": "d", "labelFont": "Liberation Serif", "labelFontSize": 35, "labelPadding": 6, "titlePadding": 8}
    },
    "y": {
      "field": "v",
      "type": "quantitative",
      "scale": {"domain": [0, 1.1], "nice": false},
      "axis": {"title": "I / Î", "values": [0, 0.2, 0.4, 0.6, 0.8, 1.0], "format": ".1f", "labelFont": "Liberation Serif", "labelFontSize": 35, "titleFontStyle": "italic", "labelPadding": 12, "titlePadding": 10}
    }
  },
  "layer": [
    {
      "data": {"name": "ions"},
      "transform": [{"filter": {"field": "s", "oneOf": ["Fe VII", "Fe IX", "Fe X", "Fe XI", "Fe XIII", "Fe XV", "Fe XVI", "Fe XVIII", "Fe XIX", "Fe XXI"]}}],
      "mark": {"type": "line", "strokeWidth": 4.5, "clip": true, "strokeJoin": "round"},
      "encoding": {
        "color": {
          "field": "s",
          "type": "nominal",
          "scale": {
            "domain": ["Fe VII", "Fe IX", "Fe X", "Fe XI", "Fe XIII", "Fe XV", "Fe XVI", "Fe XVIII", "Fe XIX", "Fe XXI", "Fe XXII", "Fe XXIII", "Fe XXV"],
            "range": ["#1f77b4", "#ff7f0e", "#2ca02c", "#d62728", "#9467bd", "#8c564b", "#e377c2", "#7f7f7f", "#bcbd22", "#17becf", "#1f77b4", "#ff7f0e", "#2ca02c"]
          },
          "legend": {
            "title": null,
            "orient": "none",
            "legendX": 683,
            "legendY": 11,
            "padding": 11,
            "fillColor": "white",
            "strokeColor": "#cccccc",
            "cornerRadius": 5,
            "symbolType": "M-2.5,0H2.5",
            "symbolSize": 441,
            "symbolStrokeWidth": 3,
            "symbolOffset": 11.25,
            "labelFont": "Liberation Sans",
            "labelFontSize": 23,
            "labelColor": "#222222",
            "labelOffset": 32.75,
            "rowPadding": 10.4
          }
        }
      }
    },
    {
      "data": {"name": "ions"},
      "transform": [{"filter": {"field": "s", "oneOf": ["Fe XXII", "Fe XXIII"]}}],
      "mark": {"type": "line", "strokeWidth": 7.5, "clip": true, "strokeJoin": "round"},
      "encoding": {"color": {"field": "s", "type": "nominal"}}
    },
    {
      "data": {"name": "ions"},
      "transform": [{"filter": {"field": "s", "equal": "Fe XXV"}}],
      "mark": {"type": "line", "strokeWidth": 3, "clip": true, "strokeJoin": "round"},
      "encoding": {"color": {"field": "s", "type": "nominal"}}
    },
    {
      "data": {"values": [{"label": "20180906.038", "t": 6874, "v": 1.011}]},
      "mark": {"type": "text", "align": "left", "baseline": "alphabetic", "font": "Lato", "fontSize": 32.5, "color": "black"},
      "encoding": {"text": {"field": "label"}}
    },
    {
      "data": {"values": [
        {"label": "I. LBO", "t": 7232, "v": 0.768},
        {"label": "edge plasma", "t": 7225, "v": 0.6855},
        {"label": "II. TESPEL", "t": 7526, "v": 0.3683},
        {"label": "core plasma", "t": 7526, "v": 0.2797}
      ]},
      "mark": {"type": "text", "align": "left", "baseline": "alphabetic", "font": "Lato", "fontSize": 39.5, "color": "black"},
      "encoding": {"text": {"field": "label"}}
    },
    {
      "data": {"values": [
        {"label": "102 ms", "t": 7236, "v": 0.606},
        {"label": "115 ms", "t": 7530, "v": 0.1944}
      ]},
      "mark": {"type": "text", "align": "left", "baseline": "alphabetic", "font": "Liberation Serif", "fontSize": 40, "color": "black"},
      "encoding": {"text": {"field": "label"}}
    }
  ]
}
